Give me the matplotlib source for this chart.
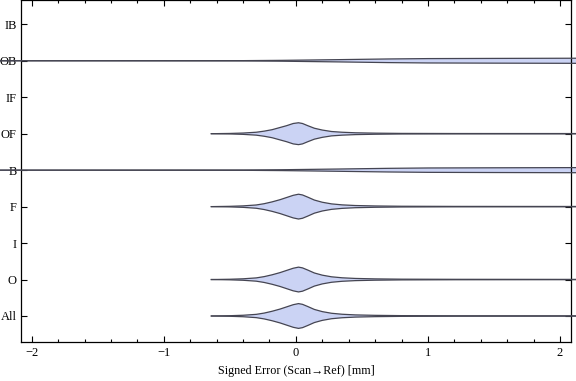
import matplotlib
matplotlib.use('Agg')
import matplotlib.pyplot as plt
from matplotlib.ticker import MultipleLocator

# categories bottom to top
cats = ['All', 'O', 'I', 'F', 'B', 'OF', 'IF', 'OB', 'IB']

# violin profiles (half widths, in row units)
peak_x = [-0.64, -0.5, -0.4, -0.3, -0.24, -0.18, -0.12, -0.07, -0.02, 0.02, 0.05, 0.09, 0.14,
          0.2, 0.27, 0.35, 0.45, 0.6, 0.8, 1.2, 2.121]
peak_w = [0.0, 0.008, 0.02, 0.045, 0.08, 0.13, 0.19, 0.25, 0.31, 0.34, 0.32, 0.26, 0.18,
          0.12, 0.075, 0.048, 0.03, 0.018, 0.01, 0.006, 0.004]
of_w = [0.0, 0.007, 0.018, 0.04, 0.07, 0.11, 0.17, 0.22, 0.28, 0.30, 0.28, 0.22, 0.15,
        0.1, 0.06, 0.04, 0.025, 0.015, 0.008, 0.005, 0.004]

wide_x = [-2.239, -0.4, -0.1, 0.3, 0.7, 1.0, 1.5, 2.121]
wide_w = [0.0, 0.004, 0.012, 0.03, 0.05, 0.06, 0.065, 0.07]

profiles = {
    'All': (peak_x, peak_w),
    'O': (peak_x, peak_w),
    'F': (peak_x, peak_w),
    'OF': (peak_x, of_w),
    'B': (wide_x, wide_w),
    'OB': (wide_x, wide_w),
}

plt.rcParams['font.family'] = ['Liberation Serif', 'DejaVu Serif']

fig = plt.figure(figsize=(5.76, 3.81), dpi=100)
ax = fig.add_axes([21 / 576, 1 - 341.7 / 381, 550 / 576, 341.7 / 381])

for i, c in enumerate(cats):
    if c not in profiles:
        continue
    xs, ws = profiles[c]
    y0 = i + 1
    lo = [y0 - w for w in ws]
    hi = [y0 + w for w in ws]
    ax.fill_between(xs, lo, hi, facecolor='#cbd3f4', edgecolor='none', clip_on=False, zorder=2)
    ax.plot(xs, hi, color='#454552', lw=0.9, clip_on=False, zorder=3)
    ax.plot(xs, lo, color='#454552', lw=0.9, clip_on=False, zorder=3)

ax.set_xlim(-2.081, 2.083)
ax.set_ylim(0.295, 9.667)
ax.set_yticks(range(1, len(cats) + 1))
ax.set_yticklabels(cats)
ax.xaxis.set_major_locator(MultipleLocator(1))
ax.xaxis.set_minor_locator(MultipleLocator(0.2))
ax.tick_params(which='both', direction='in', top=True, right=True, labelsize=9, colors='black', width=0.8)
ax.tick_params(which='major', length=4, pad=4)
ax.tick_params(which='minor', length=2.5)
ax.tick_params(axis='y', pad=3)
for s in ax.spines.values():
    s.set_linewidth(0.9)

ax.set_xlabel('Signed Error (Scan\u2192Ref) [mm]', fontsize=8.7, labelpad=4)

fig.savefig('out.png', dpi=100)
